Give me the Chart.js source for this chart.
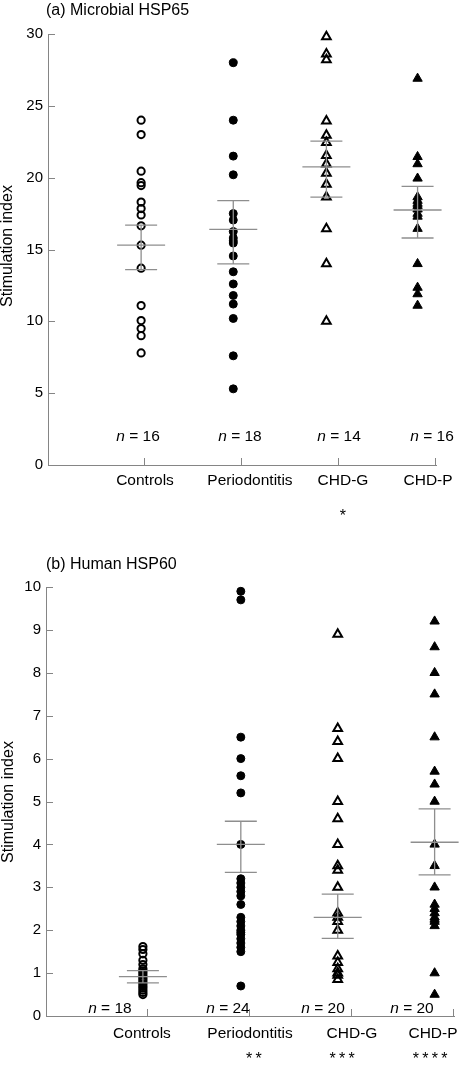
<!DOCTYPE html>
<html><head><meta charset="utf-8">
<script src="https://cdn.jsdelivr.net/npm/chart.js@4.4.1/dist/chart.umd.min.js"></script>
<style>
html,body{margin:0;padding:0;background:#fff;}
body{width:462px;height:1066px;position:relative;overflow:hidden;}
.wrap{position:absolute;left:0;width:462px;}
#wa{top:0;height:530px;}
#wb{top:530px;height:536px;}
</style></head><body>
<div class="wrap" id="wa"><canvas id="ca"></canvas></div>
<div class="wrap" id="wb"><canvas id="cb"></canvas></div>
<script>
// ---------- DATA ----------
const categories = ['Controls', 'Periodontitis', 'CHD-G', 'CHD-P'];

// (a) Microbial HSP65
const controlsA      = [24, 23, 20.45, 19.65, 19.45, 18.3, 17.85, 17.4, 16.65, 15.3, 13.7, 11.1, 10.05, 9.5, 9.0, 7.8];
const periodontitisA = [28, 24, 21.5, 20.2, 17.5, 17.05, 16.25, 15.8, 15.6, 15.45, 14.55, 13.45, 12.6, 11.8, 11.2, 10.2, 7.6, 5.3];
const chdGA          = [29.8, 28.6, 28.2, 23.95, 22.95, 22.45, 21.55, 20.95, 20.3, 19.55, 18.65, 16.45, 14.0, 10.0];
const chdPA          = [26.9, 21.45, 20.95, 19.95, 18.65, 18.4, 18.2, 18.05, 17.8, 17.5, 17.3, 16.45, 14.0, 12.35, 11.9, 11.1];
const meanA  = [15.3, 16.4, 20.75, 17.75];
const upperA = [16.7, 18.4, 22.55, 19.4];
const lowerA = [13.6, 14.0, 18.65, 15.8];
const nA     = [16, 18, 14, 16];
const starsA = ['', '', '*', ''];
const yTicksA = [0, 5, 10, 15, 20, 25, 30];

// (b) Human HSP60
const controlsB      = [1.62, 1.55, 1.45, 1.3, 1.2, 1.1, 1.05, 1.0, 0.95, 0.9, 0.85, 0.8, 0.75, 0.7, 0.65, 0.6, 0.55, 0.5];
const periodontitisB = [9.9, 9.7, 6.5, 6.0, 5.6, 5.2, 4.0, 3.2, 3.1, 3.0, 2.9, 2.8, 2.6, 2.3, 2.2, 2.1, 2.0, 1.95, 1.9, 1.8, 1.7, 1.6, 1.5, 0.7];
const chdGB          = [8.9, 6.7, 6.4, 6.0, 5.0, 4.6, 4.0, 3.5, 3.4, 3.0, 2.4, 2.3, 2.2, 2.0, 1.4, 1.25, 1.1, 1.0, 0.95, 0.85];
const chdPB          = [9.2, 8.6, 8.0, 7.5, 6.5, 5.7, 5.4, 5.0, 4.0, 3.5, 3.0, 2.6, 2.5, 2.4, 2.3, 2.25, 2.2, 2.1, 1.0, 0.5];
const meanB  = [0.92, 4.0, 2.3, 4.05];
const upperB = [1.06, 4.54, 2.84, 4.83];
const lowerB = [0.77, 3.35, 1.81, 3.29];
const nB     = [18, 24, 20, 20];
const starsB = ['', '**', '***', '****'];
const yTicksB = [0, 1, 2, 3, 4, 5, 6, 7, 8, 9, 10];

// ---------- STYLE / LAYOUT ----------
const FONT = '"Liberation Sans", Arial, Helvetica, sans-serif';
const AXIS = '#858585';
const BAR = '#8e8e8e';
const markerStyles = [
  {pointStyle: 'circle',   radius: 3.6, borderWidth: 2,   backgroundColor: 'rgba(0,0,0,0)', borderColor: '#000'},
  {pointStyle: 'circle',   radius: 4.0, borderWidth: 1,   backgroundColor: '#000', borderColor: '#000'},
  {pointStyle: 'triangle', radius: 5.0, borderWidth: 2,   backgroundColor: 'rgba(0,0,0,0)', borderColor: '#000'},
  {pointStyle: 'triangle', radius: 5.4, borderWidth: 1,   backgroundColor: '#000', borderColor: '#000'}
];

const layoutA = {
  padding: {left: 0, right: 26, top: 34, bottom: 65}, yWidth: 48, yMax: 30,
  groupX: [0.96, 1.91, 2.87, 3.81],
  title: {text: '(a) Microbial HSP65', x: 46, y: 15},
  yTitle: {x: 8, y: 246},
  nPos: [0.928, 1.979, 3.0, 3.959], nY: 441,
  catPos: [1.0, 2.082, 3.041, 3.918], catY: 485,
  starPos: [1.0, 2.082, 3.041, 3.918], starY: 521
};
const layoutB = {
  padding: {left: 0, right: 8, top: 57, bottom: 50}, yWidth: 46, yMax: 10,
  groupX: [0.95, 1.91, 2.86, 3.81],
  title: {text: '(b) Human HSP60', x: 46, y: 39},
  yTitle: {x: 9, y: 272},
  nPos: [0.627, 1.784, 2.716, 3.588], nY: 482.5,
  catPos: [0.941, 2.0, 3.0, 3.794], catY: 508,
  starPos: [0.941, 2.039, 2.902, 3.765], starY: 534
};

function decor(L, stats) {
  return {
    id: 'decor',
    afterDatasetsDraw(chart) {
      const {ctx, chartArea: ca, scales: {x, y}} = chart;
      ctx.save();
      // inward tick marks
      ctx.strokeStyle = AXIS; ctx.lineWidth = 1;
      y.ticks.forEach(t => {
        const py = Math.round(y.getPixelForValue(t.value)) + 0.5;
        ctx.beginPath(); ctx.moveTo(ca.left, py); ctx.lineTo(ca.left + 7, py); ctx.stroke();
      });
      x.ticks.forEach(t => {
        if (t.value <= 0) return;
        const px = Math.round(x.getPixelForValue(t.value)) - 0.5;
        ctx.beginPath(); ctx.moveTo(px, ca.bottom); ctx.lineTo(px, ca.bottom - 7); ctx.stroke();
      });
      // mean +/- SE bars
      ctx.strokeStyle = BAR; ctx.lineWidth = 1.3;
      stats.mean.forEach((m, i) => {
        const px = x.getPixelForValue(L.groupX[i]);
        const pm = y.getPixelForValue(m), pu = y.getPixelForValue(stats.upper[i]), pl = y.getPixelForValue(stats.lower[i]);
        ctx.beginPath();
        ctx.moveTo(px, pu); ctx.lineTo(px, pl);
        ctx.moveTo(px - 24, pm); ctx.lineTo(px + 24, pm);
        ctx.moveTo(px - 16, pu); ctx.lineTo(px + 16, pu);
        ctx.moveTo(px - 16, pl); ctx.lineTo(px + 16, pl);
        ctx.stroke();
      });
      ctx.restore();
    },
    afterDraw(chart) {
      const {ctx, scales: {x}} = chart;
      ctx.save();
      ctx.fillStyle = '#000';
      ctx.textBaseline = 'alphabetic';
      // panel title
      ctx.font = '16px ' + FONT; ctx.textAlign = 'left';
      ctx.fillText(L.title.text, L.title.x, L.title.y);
      // y-axis title
      ctx.save();
      ctx.translate(L.yTitle.x, L.yTitle.y); ctx.rotate(-Math.PI / 2);
      ctx.textAlign = 'center'; ctx.textBaseline = 'middle';
      ctx.font = '16px ' + FONT;
      ctx.fillText('Stimulation index', 0, 0);
      ctx.restore();
      // n = labels
      stats.n.forEach((n, i) => {
        const cx = x.getPixelForValue(L.nPos[i]);
        const fi = 'italic 15.5px ' + FONT, fr = '15.5px ' + FONT;
        const rest = ' = ' + n;
        ctx.font = fi; const w1 = ctx.measureText('n').width;
        ctx.font = fr; const w2 = ctx.measureText(rest).width;
        const x0 = cx - (w1 + w2) / 2;
        ctx.textAlign = 'left';
        ctx.font = fi; ctx.fillText('n', x0, L.nY);
        ctx.font = fr; ctx.fillText(rest, x0 + w1, L.nY);
      });
      // category labels
      ctx.font = '15.5px ' + FONT; ctx.textAlign = 'center';
      categories.forEach((c, i) => ctx.fillText(c, x.getPixelForValue(L.catPos[i]), L.catY));
      // significance stars
      ctx.font = '16px ' + FONT;
      stats.stars.forEach((s, i) => {
        const cx = x.getPixelForValue(L.starPos[i]);
        const k = s.length, gap = 9.5;
        for (let j = 0; j < k; j++) ctx.fillText('*', cx + (j - (k - 1) / 2) * gap, L.starY);
      });
      ctx.restore();
    }
  };
}

function build(canvasId, groups, stats, yTicks, L) {
  const datasets = groups.map((vals, i) => Object.assign({
    label: categories[i],
    data: vals.map(v => ({x: L.groupX[i], y: v})),
    clip: false
  }, markerStyles[i]));
  return new Chart(document.getElementById(canvasId), {
    type: 'scatter',
    data: {datasets},
    options: {
      responsive: true, maintainAspectRatio: false, animation: false,
      layout: {padding: L.padding},
      plugins: {legend: {display: false}, tooltip: {enabled: false}},
      scales: {
        x: {
          type: 'linear', min: 0, max: 4,
          ticks: {display: false, stepSize: 1},
          grid: {display: true, drawOnChartArea: false, drawTicks: false},
          border: {display: true, color: AXIS, width: 1},
          afterFit(s) { s.height = 0; }
        },
        y: {
          min: 0, max: L.yMax,
          afterBuildTicks(s) { s.ticks = yTicks.map(v => ({value: v})); },
          ticks: {padding: 5, color: '#000', font: {family: FONT, size: 15}},
          grid: {display: true, drawOnChartArea: false, drawTicks: false},
          border: {display: true, color: AXIS, width: 1},
          afterFit(s) { s.width = L.yWidth; }
        }
      }
    },
    plugins: [decor(L, stats)]
  });
}

build('ca', [controlsA, periodontitisA, chdGA, chdPA],
  {mean: meanA, upper: upperA, lower: lowerA, n: nA, stars: starsA}, yTicksA, layoutA);
build('cb', [controlsB, periodontitisB, chdGB, chdPB],
  {mean: meanB, upper: upperB, lower: lowerB, n: nB, stars: starsB}, yTicksB, layoutB);
</script>
</body></html>
